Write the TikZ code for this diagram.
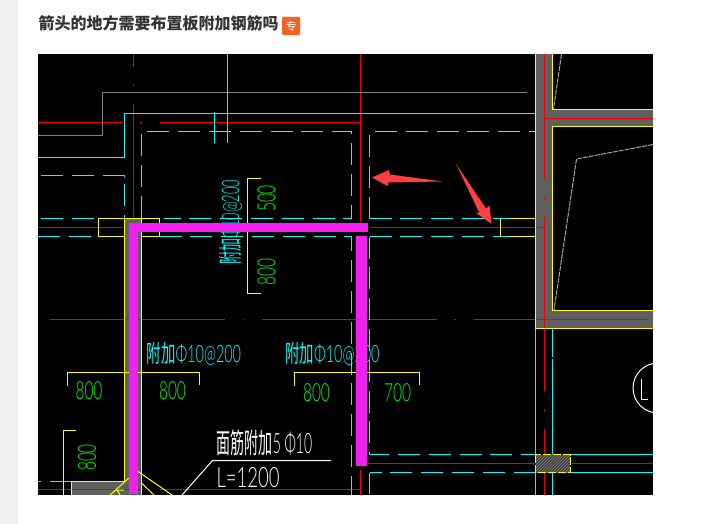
\documentclass[tikz,border=0pt]{standalone}
\usepackage{fontspec}
\usepackage{graphicx}
\usetikzlibrary{patterns}
\setmainfont{Liberation Sans}
\newfontfamily\cjkfont{Noto Sans CJK SC}
\newfontfamily\cadfont[UprightFont={* Light}]{Lato}
\newcommand{\cadtext}[2]{\scalebox{#1}[1]{#2}}
\definecolor{cadcyan}{HTML}{00FFFF}
\definecolor{cadred}{HTML}{F00000}
\definecolor{cadgreen}{HTML}{00FF00}
\definecolor{cadyellow}{HTML}{FFFF00}
\definecolor{cadgray}{HTML}{5F5F5F}
\definecolor{barmagenta}{HTML}{F21FF0}
\definecolor{markred}{HTML}{FF4040}
\definecolor{badgeorange}{HTML}{F8611C}
\definecolor{pagestrip}{HTML}{EFF0F2}
\begin{document}
\begin{tikzpicture}[x=1pt,y=-1pt,line width=1pt,
    wall/.style={fill=cadgray,draw=none},
    axisred/.style={draw=cadred},
    outline/.style={draw=cadyellow},
    rebar/.style={draw=cadcyan},
    rebardash/.style={draw=cadcyan,dash pattern=on 22pt off 8.8pt},
    slabedge/.style={draw=black!35,dash pattern=on 5pt off 1pt},
    dimtext/.style={text=cadgreen,inner sep=0pt,font=\cadfont\fontsize{25}{25}\selectfont},
    noteblue/.style={text=cadcyan,inner sep=0pt,font=\cadfont\fontsize{24}{24}\selectfont},
    notewhite/.style={text=white,inner sep=0pt,font=\cadfont\fontsize{28}{28}\selectfont},
    bar/.style={fill=barmagenta,draw=none},
    callout/.style={fill=markred,draw=none}]
\useasboundingbox (0,0) rectangle (709,524);
\fill[pagestrip] (0,0) rectangle (18,524);

% heading
\node[anchor=west,inner sep=0pt,text=black!80] (heading) at (38,23)
    {\cjkfont\fontsize{16}{16}\selectfont\bfseries 箭头的地方需要布置板附加钢筋吗};
\node[fill=badgeorange,rounded corners=1pt,minimum size=18pt,inner sep=0pt,text=white] (badge) at (291,26)
    {\cjkfont\fontsize{11}{11}\selectfont 专};

\begin{scope}
\clip (38,54) rectangle (653,495);
\fill[black] (38,54) rectangle (653,495);

% walls
\fill[wall] (535.5,54) rectangle (552.5,328);
\fill[wall] (552.5,109.5) rectangle (653,126.5);
\fill[wall] (552.5,310.5) rectangle (653,328.5);
\fill[wall] (124.5,218.5) rectangle (141.5,495);
\fill[wall] (71,481.5) rectangle (124.5,495);
\fill[black!75] (535.5,454.5) rectangle (570,472.5);
\fill[pattern=north east lines,pattern color=gray] (535.5,454.5) rectangle (570,472.5);

% axes
\draw[axisred] (133.5,54) -- (133.5,67) (133.5,84) -- (133.5,86) (133.5,104) -- (133.5,218);
\draw[axisred] (38,122.5) -- (123,122.5) (140,122.5) -- (142,122.5) (160,122.5) -- (360.5,122.5);
\draw[axisred] (360.5,54) -- (360.5,222);
\draw[axisred] (38,227.5) -- (123,227.5) (371,227.5) -- (544,227.5);
\draw[axisred] (50,319.5) -- (225,319.5) (243,319.5) -- (244,319.5) (262,319.5) -- (437,319.5)
    (454,319.5) -- (456,319.5) (474,319.5) -- (649,319.5);
\draw[axisred] (544.5,54) -- (544.5,180) (544.5,198) -- (544.5,200) (544.5,217) -- (544.5,391)
    (544.5,409) -- (544.5,411) (544.5,429) -- (544.5,454) (544.5,473) -- (544.5,495);
\draw[axisred] (544.5,118.5) -- (653,118.5);
\draw[axisred] (367,463.5) -- (535,463.5) (552,463.5) -- (554,463.5) (572,463.5) -- (653,463.5);
\draw[axisred] (360.5,470) -- (360.5,495);
\draw[axisred] (38,489.5) -- (143,489.5) (160,489.5) -- (360.5,489.5);

% grey lines
\draw[gray] (38,135.5) -- (102.5,135.5) -- (102.5,92.5) -- (527,92.5);
\draw[slabedge] (561.5,54) -- (553.5,109);
\draw[slabedge] (653,144.5) -- (576.5,159) -- (554,310);

% cyan solid
\draw[rebar] (38,157) -- (124.5,157) -- (124.5,113.5) -- (535.5,113.5);
\draw[rebar] (227.5,54) -- (227.5,142.5);
\draw[rebar] (214.5,112) -- (214.5,142.5);
\draw[rebar] (535.5,328) -- (535.5,454) (535.5,473) -- (535.5,495);
\draw[rebar] (552.5,328) -- (552.5,357) (552.5,359) -- (552.5,454) (552.5,473) -- (552.5,495);
\draw[rebar] (570,454.5) -- (653,454.5);
\draw[rebar] (570,472.5) -- (653,472.5);
\draw[rebar] (38,481.5) -- (41,481.5) (50,481.5) -- (124.5,481.5);

% cyan dashed
\draw[rebardash] (41,175.5) -- (124.5,175.5) -- (124.5,218.5);
\draw[rebardash] (141.5,218) -- (141.5,131.5) -- (351.5,131.5) -- (351.5,218.5) -- (164,218.5);
\draw[rebardash] (369.5,218.5) -- (369.5,131.5) -- (535.5,131.5);
\draw[rebardash] (369.5,218.5) -- (509,218.5);
\draw[rebardash] (369.5,236.5) -- (509,236.5);
\draw[rebardash] (41,218.5) -- (98.5,218.5);
\draw[rebardash] (38,236.5) -- (98.5,236.5);
\draw[rebardash] (159.5,236.5) -- (351.5,236.5) -- (351.5,495);
\draw[rebardash] (369.5,236.5) -- (369.5,454.5) -- (535.5,454.5);
\draw[rebardash] (535.5,472.5) -- (369.5,472.5);
\draw[rebar] (369.5,472.5) -- (369.5,494);

% yellow outlines
\draw[outline] (124.5,218.5) -- (98.5,218.5) -- (98.5,236.5) -- (124.5,236.5);
\draw[outline] (124.5,218.5) -- (159.5,218.5) -- (159.5,236.5) -- (141.5,236.5);
\draw[outline] (124.5,218.5) -- (124.5,481.5);
\draw[outline] (141.5,218.5) -- (141.5,495);
\draw[outline] (535.5,54) -- (535.5,328.5) -- (653,328.5);
\draw[outline] (552.5,54) -- (552.5,109.5) -- (653,109.5);
\draw[outline] (653,126.5) -- (552.5,126.5) -- (552.5,310.5) -- (653,310.5);
\draw[outline] (509,218.5) -- (535.5,218.5) (509,236.5) -- (535.5,236.5);
\draw[outline] (500.5,218.5) -- (500.5,236.5);
\draw[outline] (260.5,178.5) -- (247.5,178.5) -- (247.5,293.5) -- (260.5,293.5);
\draw[outline] (67.5,385.5) -- (67.5,372.5) -- (199.5,372.5) -- (199.5,385);
\draw[outline] (294.5,385.5) -- (294.5,372.5) -- (419.5,372.5) -- (419.5,385);
\draw[outline] (76,430.5) -- (63.5,430.5) -- (63.5,495);
\draw[outline] (71,495) -- (71,481.5) -- (124.5,481.5);
\draw[outline,dash pattern=on 8pt off 2pt] (535.5,454.5) rectangle (570,472.5);
\draw[outline] (138,471.5) -- (172,495) (141.5,483) -- (154,495) (129,478) -- (110,495)
    (117,490) -- (120,495) (117,490) -- (124,490);

% leader and grid bubble
\draw[white] (331,460.5) -- (212.5,460.5) -- (182,495);
\draw[white] (658,388) circle (25);
\draw[white] (641.5,379) -- (641.5,399.5) -- (648,399.5);

% labels
\node[dimtext] (dimA) at (89,391) {\cadtext{.62}{800}};
\node[dimtext] (dimB) at (172.5,391) {\cadtext{.62}{800}};
\node[dimtext] (dimC) at (316.5,393) {\cadtext{.62}{800}};
\node[dimtext] (dimD) at (397.5,393) {\cadtext{.62}{700}};
\node[dimtext,rotate=90] (dimE) at (87,457.5) {\cadtext{.62}{800}};
\node[dimtext,rotate=90] (dimF) at (266.5,198.5) {\cadtext{.62}{500}};
\node[dimtext,rotate=90] (dimG) at (266.5,272) {\cadtext{.62}{800}};
\node[noteblue] (noteA) at (194,353.5) {\cadtext{.6}{\cjkfont 附加\cadfont Φ10@200}};
\node[noteblue] (noteB) at (332.5,353.5) {\cadtext{.6}{\cjkfont 附加\cadfont Φ10@200}};
\node[noteblue,rotate=90] (noteC) at (230.5,222) {\cadtext{.54}{\cjkfont 附加\cadfont Φ10@200}};
\node[notewhite] (noteD) at (264.5,443) {\cadtext{.5}{\cjkfont 面筋附加\cadfont 5 Φ10}};
\node[notewhite] (noteE) at (248,477.5) {\cadtext{.66}{L=1200}};

% added bars
\fill[bar] (129,223) rectangle (368,232);
\fill[bar] (129,223) rectangle (138,494);
\fill[bar] (356,236) rectangle (367,466);

% red arrows
\fill[callout] (372,177.5) -- (389,170) -- (390,174.5) -- (442.5,181.5) -- (388.5,182.5) -- (387.5,186) -- cycle;
\fill[callout] (456,164) -- (486,208.5) -- (489.5,205.5) -- (491.5,224) -- (475.5,212.5) -- (479.5,213) -- cycle;
\end{scope}
\end{tikzpicture}
\end{document}
